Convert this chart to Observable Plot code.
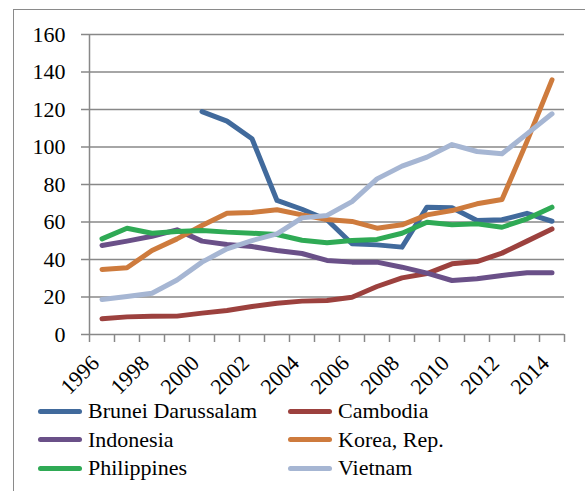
<!DOCTYPE html>
<html>
<head>
<meta charset="utf-8">
<script src="https://cdn.jsdelivr.net/npm/d3@7"></script>
<script src="https://cdn.jsdelivr.net/npm/@observablehq/plot@0.6"></script>
<style>
html, body { margin: 0; padding: 0; background: #fff; overflow: hidden; width: 585px; height: 491px; }
#frame { position: absolute; left: 13px; top: 9px; width: 640px; height: 560px; border-left: 1.5px solid #8a8a8a; border-top: 1.5px solid #8a8a8a; }
#chart { position: absolute; left: 0; top: 0; }
#legend { position: absolute; left: 38px; top: 397px; display: grid; grid-template-columns: 250px 240px;
  font-family: "Liberation Serif", serif; font-size: 22px; color: #000; }
.item { display: flex; align-items: center; height: 28.5px; line-height: 28.5px; white-space: nowrap; font-family: "Liberation Serif", serif; }
.sw { width: 44px; height: 5px; border-radius: 3px; margin-right: 6px; flex: none; }
</style>
</head>
<body>
<div id="frame"></div>
<div id="chart"></div>
<div id="legend"></div>
<script>
const years = [1996,1997,1998,1999,2000,2001,2002,2003,2004,2005,2006,2007,2008,2009,2010,2011,2012,2013,2014];
const xLabels = [1996,1998,2000,2002,2004,2006,2008,2010,2012,2014];
const yTicks = [0,20,40,60,80,100,120,140,160];

const countries = ["Brunei Darussalam","Cambodia","Indonesia","Korea, Rep.","Philippines","Vietnam"];
const colors = ["#416A9C","#9C413E","#6A5088","#CE7B3D","#2FAA55","#A6B6D3"];

const brunei      = [null,null,null,null,118.9,113.8,104.4,71.5,66.8,61.2,48.4,47.8,46.6,67.9,67.6,60.8,61.2,64.6,60.4];
const cambodia    = [8.4,9.4,9.7,9.8,11.4,12.8,14.9,16.7,17.8,18.1,19.9,25.6,30.2,32.5,37.7,38.9,43.4,49.8,56.3];
const indonesia   = [47.5,49.8,52.4,55.8,49.8,48.0,46.9,44.8,43.2,39.5,38.6,38.6,35.9,32.7,28.8,29.7,31.5,32.9,32.9];
const korea       = [34.7,35.6,44.8,51.0,58.1,64.7,65.1,66.5,63.8,61.3,60.3,56.7,58.5,63.8,66.1,69.7,72.0,103.0,135.8];
const philippines = [51.0,56.7,54.0,54.9,55.5,54.6,54.0,53.3,50.3,48.9,50.1,50.7,54.0,59.9,58.5,59.0,57.2,61.7,67.9];
const vietnam     = [18.7,20.3,22.0,29.1,38.6,45.7,50.1,53.7,62.2,63.5,70.9,83.0,89.8,94.6,101.3,97.6,96.4,107.0,117.7];

const seriesValues = [brunei, cambodia, indonesia, korea, philippines, vietnam];

const rows = [];
countries.forEach((c, ci) => {
  years.forEach((yr, i) => rows.push({country: c, year: yr, value: seriesValues[ci][i]}));
});

const boundaries = [...years.map(y => y - 0.5), years[years.length - 1] + 0.5];
const font = '"Liberation Serif", serif';
const gray = "#888888";

const chart = Plot.plot({
  width: 585,
  height: 400,
  marginLeft: 89,
  marginRight: 21,
  marginTop: 34,
  marginBottom: 66,
  style: {fontFamily: font, fontSize: "22px", background: "transparent", overflow: "visible"},
  x: {domain: [boundaries[0], boundaries[boundaries.length - 1]], axis: null, label: null},
  y: {domain: [0, 160], axis: null, label: null},
  color: {domain: countries, range: colors},
  marks: [
    Plot.ruleY(yTicks, {y: d => d, stroke: gray, strokeWidth: 1.5, insetLeft: -8}),
    Plot.ruleX([boundaries[0]], {x: d => d, stroke: gray, strokeWidth: 1.5}),
    Plot.ruleX(boundaries, {x: d => d, y1: 0, y2: 0, insetBottom: -8, stroke: gray, strokeWidth: 1.5}),
    Plot.text(yTicks, {y: d => d, frameAnchor: "left", textAnchor: "end", dx: -24, text: d => String(d), fill: "#000", fontSize: 22, fontFamily: font}),
    Plot.text(xLabels, {x: d => d, frameAnchor: "bottom", rotate: -45, textAnchor: "end", dx: -1.5, dy: 30, text: d => String(d), fill: "#000", fontSize: 22, fontFamily: font}),
    Plot.line(rows, {x: "year", y: "value", z: "country", stroke: "country", strokeWidth: 5, strokeLinecap: "round", strokeLinejoin: "round", defined: d => d.value != null})
  ]
});
document.getElementById("chart").appendChild(chart);

const legend = document.getElementById("legend");
countries.forEach((c, i) => {
  const item = document.createElement("div");
  item.className = "item";
  const sw = document.createElement("span");
  sw.className = "sw";
  sw.style.background = colors[i];
  const t = document.createElement("span");
  t.textContent = c;
  item.appendChild(sw);
  item.appendChild(t);
  legend.appendChild(item);
});
</script>
</body>
</html>
